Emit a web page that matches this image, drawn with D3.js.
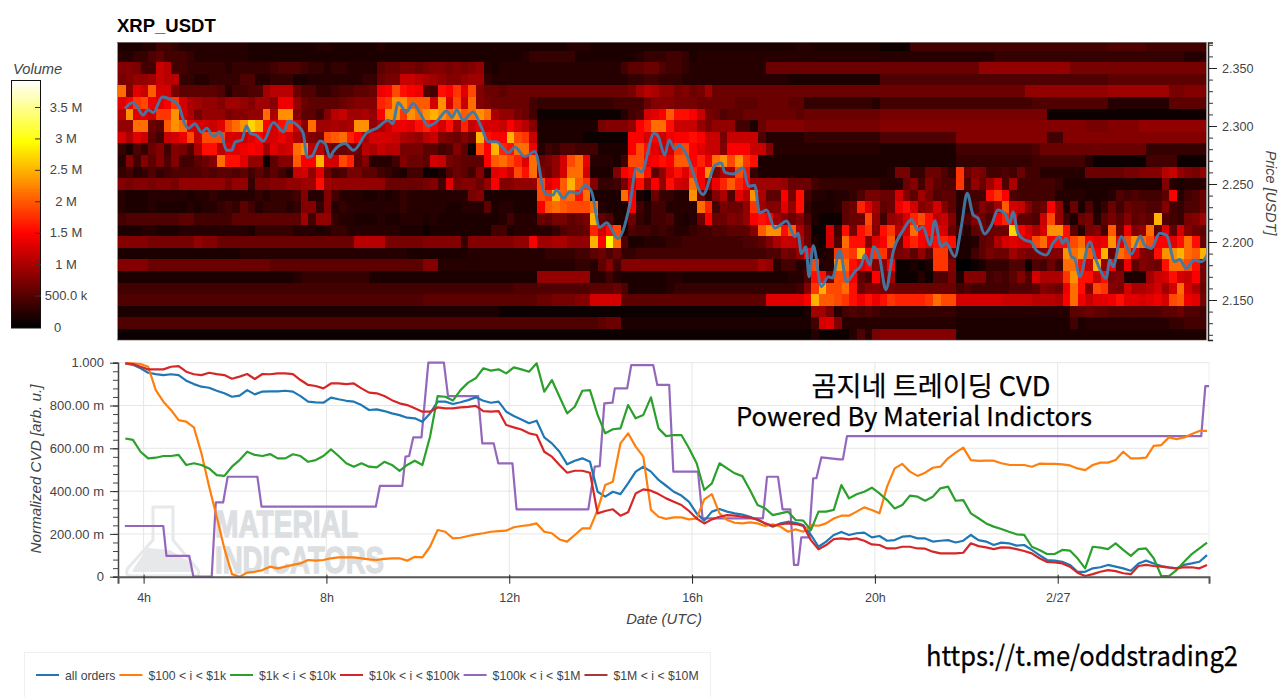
<!DOCTYPE html>
<html><head><meta charset="utf-8">
<script src="https://cdn.jsdelivr.net/npm/d3@7"></script>
<style>
html,body{margin:0;padding:0;background:#fff;overflow:hidden}
svg{display:block}
text{font-family:"Liberation Sans",Arial,sans-serif}
</style></head><body>
<svg id="c" width="1280" height="697"></svg>
<script>
// ---------- DATA ----------
const heatStartHour = 3.44, heatStepHours = 1/6;
const priceLevels = [2.37,2.36,2.35,2.34,2.33,2.32,2.31,2.30,2.29,2.28,2.27,2.26,2.25,2.24,2.23,2.22,2.21,2.20,2.19,2.18,2.17,2.16,2.15,2.14,2.13,2.12];
// volume per 10-minute cell, one base-36 character per cell; levelCodes -> levelVolumes decodes it
const levelCodes = [0,19,25,29];
const levelVolumes = [0,1.45e6,2.1e6,2.9e6];
const heatRows = [
"2223355433 3333333222 2222223322 2222322222 2222222222 2222222223 3322222222 2222222222 2222222223 3222222222 1111555555 5555555555 5555555555 6666655555 555",
"3344675554 3333333222 2222222222 2222222222 2222222222 2223444444 2222222234 4455423333 3333333333 3333333333 3333333333 3333344444 4444444444 4444444444 333",
"aa955fe554 4444344444 5666544344 3333788998 9aa9a9ab32 3333333333 3333335778 8655433333 3333388888 8888888888 8888888888 888bbbbbbb bbbbb99999 9999999999 999",
"9abbcfee44 3344446633 4442233333 3344899ffe dcbaabcc43 3333333333 3333333445 5444333333 3333333322 2222222222 6666666666 6666666666 6666666666 7777777777 777",
"pahfogg977 777635566c eee8664456 6778ijnkji 65kjmhna88 7888888888 88888889ce dbb9a89c88 8888888888 8888888888 8888888888 888888888b bbbbbbbbbb cccccccc99 aaa",
"hjmnihjmgd cbbaccbacc aiib877778 9aaalmqqoo ogqgnfpa98 8888544444 4444455558 aaa9998888 8777888877 4444444443 5555555555 5555555555 6666666666 3333333377 777",
"eqhhfmmqgd 9bbb9aabbp dqqa775aef ccdbjqqmqp qrqpqopqpd bb98511111 111111356g hjokkjf986 7788888887 8888888888 9999999999 9999999999 9911111111 1111111111 111",
"bbpp87oqph ggfhnpqsrj gkmgapccdc dqqbdfiihk ljgkdlfhgg fjgea22222 2229aaabjl ppkfffb9bb b5528aaaaa 9999999999 aaaaaaaaaa aaaaaaaaaa aaaaaaa999 aaaabbbbbb bbb",
"gdhf75fgin fnnnggfhjg gigdba9nop ljdgggfdcb efa98a8rkj jrnmf22222 2111111jjg jfijjkjff9 ffff633333 4444444444 6666666666 aaaaaaaaaa aa55aaaaaa aaaaaaaaaa aaa",
"42648a5a96 dkkehhijic hfgpqee988 98edfee999 7756a71njr lkppi35466 5552222jnk hfgmnjhffa jjjffa3333 3333333333 2222222222 5555555555 6888888888 8888844444 444",
"3a5a7a6a55 78apkkhbb1 7aaojjrggn l7a3335a88 7gf98777jo pnlhp89bgn pi33325nni jkjoojlipq nqmk222222 2222222222 2222222222 4444444444 5555555311 1111155551 111",
"4534645666 6767767575 753fgbh856 9977543255 1126875a3h ifnkpa8bgp pg222ajkok 7bhkhljq9d dnk4222222 2222222222 2399448864 m8a9556585 5333333888 8899aaaefb a9b",
"a9aa9aa9bb bbbb9bb499 aabbcckcbb bbbbb88888 9a5h9aa8bj aabbbnhjor oma4459gkb jbkgfpjcil oljccccb88 8544444444 3338a5a766 m6b8cg6d55 5554222222 2222222a32 333",
"3222333332 3343333343 4445a33a53 3322323433 3333339a22 22222nmrop kp2222pj21 84433q84ad 6heqd77j9k 5332334699 88ga7c9677 3555kmj655 5553333222 36565557j3 568",
"3222322223 2334547534 4434aa4a34 3333333433 3332233372 33222jopon nnp3222j53 553333pl59 88bmcaahbk 4222378lhc 78ikgabga7 346a8cogfa 78jb282624 8587766a54 668",
"5666666677 5555577777 7777c5bb43 3222322333 2322222222 3533387997 89r7622843 5563238j88 a9bjkjca8a 62111788nb 5bcglnkefa 36a86jli77 6fnb528937 97a787r654 9ac",
"2223322233 3333333244 4443332344 3333333222 1222222225 5233333467 78lgkn2655 4543345566 777aoqqkod 811g5k9kma kmegpjkhg8 5378888sjg dgqqk739a5 o8iabp7h7g a87",
"aaaa999999 baa8888888 8888888888 8eeee99999 aaaaa4aaaa aabbjccddb bbrjtp6223 3344555555 55667adffe 821g6pkkah jo8jljhklk 22378dghgg npjkknpjhi qhnqpnjjhk pk8",
"2222222222 2222223333 3333333333 3333333322 2222223333 3333334444 5578684455 5555555555 555556698b j223mnmrjm mb9a7b7mm7 2257988ca9 9aaaqpqojr 8pnga9kqqr por",
"aaaa888888 8888888888 7777777777 7777777777 aa33333333 3333333333 4437a5aaaa aaaaaaaaaa aaaacb3553 4n33qpkhja bj11212mma 0012444661 6585ppkfrb j7i7a98kpp nk9",
"2222222222 2222222222 2223444444 4442222222 2222222222 22222bbbbb bb33532222 2233222222 2222222233 6kk9nnj75j 9c11131669 2aaa5657a6 gdddmqkkfk 9a222cfgkg fj9",
"5555555555 5555555555 5555555555 5555555555 5555555555 5566666666 6677786222 2234444444 4444444445 amrnnpk8aa 9988888888 5655555666 7a98ipkanm a9gddegcgp gd8",
"6666666666 6666666666 6666666666 6666666666 7777777777 7777788999 aagggg7777 7777777777 77777hhhhh jroonmkiki kmllllmpnn ggggggffff eeedjpifhh ikhhghigno ih9",
"2222222222 2222222222 2222222222 2222222222 2222222222 1111111111 1111111111 1111111111 1111111111 2cc9356565 4444444444 3333333333 3333377877 6666666778 665",
"6666666666 6666666666 6666666666 6666666666 6666666666 6666666666 6667882222 2222222222 2222222222 25gha33333 3333333333 2222222222 2222252333 3333333344 555",
"1111111111 1111111111 1111111111 1111111111 1111111111 1111111111 1111111111 1111111111 1111111111 1311113639 aaaaaaaaaa 2222222222 2222222222 2222222222 222"
];
const priceHours = [3.59,3.76,3.85,3.99,4.10,4.21,4.41,4.58,4.76,4.91,4.98,5.12,5.27,5.38,5.53,5.67,5.82,5.93,6.00,6.15,6.25,6.33,6.47,6.62,6.84,7.06,7.17,7.38,7.49,7.58,7.68,7.86,7.97,8.08,8.15,8.41,8.59,8.88,9.10,9.35,9.45,9.57,9.75,9.90,
10.05,10.23,10.41,10.63,10.75,10.85,10.99,11.21,11.39,11.54,11.72,11.98,12.12,12.34,12.56,12.78,12.96,13.03,13.18,13.33,13.51,13.65,13.80,13.98,14.13,14.38,14.49,14.64,14.78,14.89,15.17,15.26,15.40,15.50,15.62,15.72,15.88,16.24,16.50,16.64,16.72,16.90,17.12,17.23,17.37,17.48,17.63,17.81,18.07,18.25,18.32,18.39,18.49,18.56,18.65,18.83,18.98,19.07,
19.23,19.38,19.56,19.70,19.78,19.89,19.97,20.10,20.24,20.40,20.62,20.80,20.94,21.05,21.21,21.31,21.45,21.56,21.75,21.89,22.02,22.15,22.26,22.40,22.55,22.69,22.84,22.95,23.02,23.13,23.28,23.42,23.53,23.75,23.90,24.04,24.11,24.19,24.30,24.37,24.48,24.70,24.84,25.06,25.14,25.21,25.39,25.61,25.81,25.90,26.05,26.23,26.38,26.56,26.67,26.81,26.99,27.14,27.31];
const priceValues = [2.315,2.320,2.317,2.3095,2.314,2.3115,2.325,2.323,2.318,2.301,2.298,2.302,2.2945,2.298,2.291,2.295,2.279,2.279,2.286,2.288,2.300,2.294,2.292,2.287,2.303,2.295,2.304,2.300,2.294,2.273,2.274,2.287,2.285,2.273,2.278,2.285,2.279,2.294,2.298,2.305,2.302,2.320,2.312,2.3195,
2.311,2.300,2.3037,2.313,2.3075,2.314,2.305,2.312,2.299,2.2865,2.2865,2.277,2.282,2.2736,2.278,2.242,2.2405,2.245,2.238,2.2434,2.242,2.249,2.2434,2.2126,2.2167,2.203,2.210,2.233,2.2635,2.2606,2.2937,2.291,2.275,2.288,2.280,2.2836,2.275,2.241,2.266,2.268,2.260,2.2586,2.264,2.248,2.249,2.225,2.2276,2.212,2.218,2.2046,2.2075,2.190,2.196,2.170,2.197,2.1615,2.170,2.169,
2.193,2.1658,2.1744,2.180,2.189,2.180,2.196,2.1874,2.159,2.1917,2.2103,2.2195,2.2103,2.2132,2.1974,2.2184,2.196,2.199,2.1874,2.2132,2.242,2.2233,2.2204,2.207,2.2147,2.2276,2.2247,2.216,2.2261,2.2075,2.2017,2.200,2.193,2.1888,2.199,2.2046,2.199,2.2032,2.1874,2.186,2.170,2.200,2.1845,2.1687,2.1845,2.1787,2.2046,2.1897,2.2052,2.1974,2.1945,2.2075,2.206,2.183,2.185,2.1773,2.1845,2.183,2.1917];

// CVD series: one value every 10 minutes from 3.6 h, in milli-units
const cvdStartHour = 3.6, cvdStepHours = 1/6;
const allOrders = [997,990,974,953,947,942,946,942,916,900,888,883,869,857,841,846,872,852,865,866,866,869,865,844,818,815,813,837,829,822,818,802,779,782,774,763,755,743,740,
724,763,818,818,807,815,825,838,822,813,818,771,751,735,717,729,651,623,584,525,542,553,537,397,374,397,386,436,491,514,491,452,425,397,379,350,296,262,304,316,304,296,290,280,265,249,234,249,257,252,241,195,140,164,195,
209,195,203,206,184,190,168,171,187,190,179,179,164,168,171,160,168,195,171,164,148,159,156,145,148,125,101,78,75,70,55,23,23,39,44,55,47,39,28,62,75,62,50,44,39,55,62,70,101];
const usd100to1k = [997,997,994,981,872,818,779,732,725,698,576,421,280,132,12,0,19,23,31,47,39,47,55,62,78,75,78,86,90,90,90,86,81,78,83,86,86,75,93,
90,140,218,210,179,182,190,198,203,210,213,215,231,237,241,249,210,203,174,164,195,226,226,312,428,444,623,670,608,561,312,280,270,277,277,268,272,361,386,296,265,252,249,254,249,237,245,234,210,221,210,241,238,249,272,
285,285,304,324,312,296,421,506,527,491,471,486,509,514,553,580,603,545,541,542,542,530,523,522,522,514,528,527,527,525,520,506,498,522,533,533,545,584,553,553,556,611,615,651,643,651,667,681,681];
const usd1kto10k = [646,639,584,553,556,564,564,569,522,530,522,506,475,471,514,545,584,569,564,573,553,553,572,564,537,545,564,595,564,530,514,530,514,511,537,522,495,522,542,
522,654,844,841,823,872,907,927,974,963,969,950,978,969,958,997,865,919,841,763,794,869,872,756,670,689,693,802,740,756,838,693,657,662,662,600,530,405,436,530,506,483,470,405,335,319,288,296,304,265,262,218,304,304,312,
428,366,385,397,416,389,358,319,335,379,374,355,374,413,421,355,358,296,273,249,234,223,210,198,195,140,125,106,106,125,122,86,39,140,136,129,156,125,97,129,132,86,3,3,31,70,106,132,159];
const usd10kto100k = [997,994,981,969,969,969,981,984,958,946,942,953,947,942,925,935,947,924,947,946,950,950,947,919,896,891,880,903,903,900,903,880,860,857,844,825,810,802,787,
771,771,791,787,787,791,794,798,774,771,774,709,698,688,670,662,584,561,522,486,495,495,486,296,307,315,285,301,389,408,402,386,366,350,335,307,272,249,268,280,288,285,280,276,268,249,237,246,249,246,237,171,128,148,176,
179,174,179,168,151,148,132,132,140,140,132,131,117,109,109,109,112,156,143,137,129,137,136,129,120,109,86,69,67,62,47,19,3,12,23,31,26,16,12,50,55,50,47,42,39,44,44,39,55];
const usd100kto1MHours = [3.59,4.43,4.50,5.00,5.09,5.49,5.58,5.74,5.84,6.49,6.58,9.08,9.17,9.66,9.73,9.81,9.90,10.08,10.23,10.57,10.66,11.32,11.41,11.66,11.76,12.07,12.16,13.73,13.87,13.98,14.08,14.26,14.31,14.58,14.67,15.15,15.24,15.50,15.59,16.13,16.23,17.55,17.64,17.88,17.98,18.15,18.23,18.32,18.39,18.56,18.65,18.72,18.83,19.23,19.30,19.39,27.14,27.23,27.31];
const usd100kto1M = [237,237,97,97,0,0,347,347,467,467,327,327,424,424,561,564,651,651,1000,1000,844,844,623,623,530,530,315,315,514,517,810,813,880,880,989,989,896,896,491,491,273,273,467,467,315,315,55,55,184,184,460,460,558,548,548,657,657,891,891];
const cvdTicks = [0,200,400,600,800,1000];
const cvdTickLabels = ["0","200.00 m","400.00 m","600.00 m","800.00 m","1.000"];
const timeTicks = [4,8,12,16,20,24];
const timeTickLabels = ["4h","8h","12h","16h","20h","2/27"];
const priceTicks = [2.15,2.20,2.25,2.30,2.35];
const volumeTicks = [0,5e5,1e6,1.5e6,2e6,2.5e6,3e6,3.5e6];
const volumeTickLabels = ["0","500.0 k","1 M","1.5 M","2 M","2.5 M","3 M","3.5 M"];
const legendNames = ["all orders","$100 < i < $1k","$1k < i < $10k","$10k < i < $100k","$100k < i < $1M","$1M < i < $10M"];
const seriesColors = ["#1f77b4","#ff7f0e","#2ca02c","#d62728","#9467bd","#a23a3c"];

// ---------- CHART ----------
const svg = d3.select("#c");
const x = d3.scaleLinear().domain([3.44,27.31]).range([118,1209]);
const yPrice = d3.scaleLinear().domain([2.15-40/1160,2.35+25.5/1160]).range([340,42.5]);
const yCvd = d3.scaleLinear().domain([0,1000]).range([576.7,362.7]);
const volMax = 3.92e6;
const color = d3.scaleLinear().domain([0,.375*volMax,.75*volMax,volMax]).range(["#000000","#ff0000","#ffff00","#ffffff"]);
const decodeLevel = d3.scaleLinear().domain(levelCodes).range(levelVolumes);
const fontCol = "#444";

const defs = svg.append("defs");
defs.append("filter").attr("id","soft").attr("x","-1%").attr("y","-1%").attr("width","102%").attr("height","102%")
  .append("feGaussianBlur").attr("stdDeviation",.6);

svg.append("text").attr("x",117).attr("y",32).attr("font-size",18.5).attr("font-weight","bold").attr("fill","#000").text("XRP_USDT");

// heat map
svg.append("clipPath").attr("id","hc").append("rect").attr("x",118).attr("y",42.5).attr("width",1088).attr("height",297.5);
const heat = svg.append("g").attr("clip-path","url(#hc)").append("g").attr("filter","url(#soft)").attr("shape-rendering","crispEdges");
heatRows.forEach((row,r)=>{
  const chars = row.replace(/ /g,"").split("");
  const p = priceLevels[r];
  heat.selectAll(null).data(chars).enter().append("rect")
    .attr("x",(c,i)=>x(heatStartHour+i*heatStepHours))
    .attr("width",(c,i)=>x(heatStartHour+(i+1)*heatStepHours)-x(heatStartHour+i*heatStepHours)+.5)
    .attr("y",yPrice(p+.005))
    .attr("height",yPrice(p-.005)-yPrice(p+.005)+.5)
    .attr("fill",c=>color(decodeLevel(parseInt(c,36))));
});
const priceLine = d3.line().x(d=>x(d[0])).y(d=>yPrice(d[1])).curve(d3.curveMonotoneX);
svg.append("path").attr("clip-path","url(#hc)").attr("d",priceLine(priceHours.map((h,i)=>[h,priceValues[i]])))
  .attr("fill","none").attr("stroke","#3f7aa8").attr("stroke-width",3).attr("stroke-linejoin","round").attr("opacity",.95);
svg.append("rect").attr("x",117.5).attr("y",42.5).attr("width",1089).attr("height",297.5).attr("fill","none").attr("stroke","#5a4a4a").attr("stroke-width",.6);

// right axis with minor ticks
const minorPrice = d3.range(2.12,2.3705,.01);
const gr = svg.append("g").attr("transform","translate(1208,0)");
gr.call(d3.axisRight(yPrice).tickValues(minorPrice).tickSize(5).tickFormat(""));
gr.selectAll("path").attr("stroke","#222").attr("stroke-width",1.5);
gr.selectAll("line").attr("stroke","#333");
const gr2 = svg.append("g").attr("transform","translate(1208,0)");
gr2.call(d3.axisRight(yPrice).tickValues(priceTicks).tickSize(9).tickPadding(5).tickFormat(d3.format(".3f")));
gr2.select("path").remove();
gr2.selectAll("line").attr("stroke","#222");
gr2.selectAll("text").attr("font-size",12.6).attr("fill",fontCol).attr("font-family",'"Liberation Sans"');
svg.append("text").attr("transform","translate(1265.5,193) rotate(90)").attr("text-anchor","middle").attr("font-size",14.6).attr("font-style","italic").attr("fill",fontCol).text("Price [USDT]");

// colour bar
const cbY = d3.scaleLinear().domain([0,3.5e6]).range([327,107]);
svg.append("text").attr("x",13).attr("y",74).attr("font-size",14.7).attr("font-style","italic").attr("fill",fontCol).text("Volume");
svg.append("g").attr("shape-rendering","crispEdges").selectAll("rect").data(d3.range(0,volMax,volMax/124)).enter().append("rect")
  .attr("x",12).attr("width",28).attr("y",d=>cbY(d)-2.2).attr("height",2.8).attr("fill",d=>color(d));
svg.append("rect").attr("x",11.5).attr("y",80.5).attr("width",29).attr("height",247.5).attr("fill","none").attr("stroke","#111");
const gc = svg.append("g").attr("transform","translate(41,0)");
gc.call(d3.axisLeft(cbY).tickValues(volumeTicks.slice(1)).tickSize(6).tickFormat(""));
gc.select("path").remove();
gc.selectAll("line").attr("stroke","#333");
svg.append("g").selectAll("text").data(volumeTicks).enter().append("text")
  .attr("x",(d,i)=>i===0?57.5:66).attr("y",d=>cbY(d)+4.5).attr("text-anchor","middle").attr("font-size",13).attr("fill",fontCol)
  .text((d,i)=>volumeTickLabels[i]);

// CVD panel
const gg = svg.append("g");
gg.selectAll(".h").data(cvdTicks.slice(1)).enter().append("line").attr("x1",118).attr("x2",1209).attr("y1",d=>yCvd(d)).attr("y2",d=>yCvd(d)).attr("stroke","#e6e6e6");
gg.selectAll(".v").data(timeTicks).enter().append("line").attr("x1",d=>x(d)).attr("x2",d=>x(d)).attr("y1",362.7).attr("y2",576.7).attr("stroke","#e6e6e6");
gg.append("line").attr("x1",1209).attr("x2",1209).attr("y1",362.7).attr("y2",576.7).attr("stroke","#eee");

// watermark
const wm = svg.append("g");
wm.append("path").attr("d","M153 507 L173 507 L173 540 L198 570 Q201 576 194 576 L132 576 Q124 576 128 568 L153 540 Z").attr("fill","none").attr("stroke","#e6e8ea").attr("stroke-width",3);
wm.append("path").attr("d","M134 568 L147 548 L170 550 L190 562 L192 572 L132 572 Z").attr("fill","#e6e8e9");
wm.append("text").attr("x",215).attr("y",537).attr("font-size",37).attr("font-weight","bold").attr("fill","#dcdfe2").attr("stroke","#dcdfe2").attr("stroke-width",1.4).attr("textLength",143).attr("lengthAdjust","spacingAndGlyphs").text("MATERIAL");
wm.append("text").attr("x",215).attr("y",573).attr("font-size",37).attr("font-weight","bold").attr("fill","#dcdfe2").attr("stroke","#dcdfe2").attr("stroke-width",1.4).attr("textLength",169).attr("lengthAdjust","spacingAndGlyphs").text("INDICATORS");

svg.append("clipPath").attr("id","cc").append("rect").attr("x",118).attr("y",361).attr("width",1091).attr("height",217);
const line = d3.line().x(d=>x(d[0])).y(d=>yCvd(d[1]));
const onGrid = vals=>vals.map((v,i)=>[cvdStartHour+i*cvdStepHours,v]);
const seriesPts = [
  onGrid(allOrders), onGrid(usd100to1k), onGrid(usd1kto10k), onGrid(usd10kto100k),
  usd100kto1MHours.map((h,i)=>[h,usd100kto1M[i]])
];
const drawOrder = [4,0,1,2,3];
const plot = svg.append("g").attr("clip-path","url(#cc)");
drawOrder.forEach(i=>plot.append("path").attr("d",line(seriesPts[i])).attr("fill","none").attr("stroke",seriesColors[i]).attr("stroke-width",2.2).attr("stroke-linejoin","round"));

// left axis
const gl = svg.append("g").attr("transform","translate(118,0)");
gl.call(d3.axisLeft(yCvd).tickValues(d3.range(0,1001,40)).tickSize(5).tickFormat(""));
gl.select("path").attr("stroke","#444").attr("stroke-width",1.5);
gl.selectAll("line").attr("stroke","#444");
const gl2 = svg.append("g").attr("transform","translate(118,0)");
gl2.call(d3.axisLeft(yCvd).tickValues(cvdTicks).tickSize(8).tickPadding(6).tickFormat((d,i)=>cvdTickLabels[i]));
gl2.select("path").remove();
gl2.selectAll("line").attr("stroke","#333");
gl2.selectAll("text").attr("font-size",13).attr("fill",fontCol).attr("font-family",'"Liberation Sans"');
svg.append("text").attr("transform","translate(41,469) rotate(-90)").attr("text-anchor","middle").attr("font-size",15.2).attr("font-style","italic").attr("fill",fontCol).text("Normalized CVD [arb. u.]");

// bottom axis
const gb = svg.append("g").attr("transform","translate(0,576.7)");
gb.call(d3.axisBottom(x).tickValues(timeTicks).tickSize(7).tickPadding(9).tickFormat((d,i)=>timeTickLabels[i]));
gb.select("path").attr("stroke","#555").attr("stroke-width",2);
gb.selectAll("line").attr("stroke","#222").attr("y1",-2);
gb.selectAll("text").attr("font-size",12.5).attr("fill",fontCol).attr("font-family",'"Liberation Sans"');
svg.append("text").attr("x",664).attr("y",624).attr("text-anchor","middle").attr("font-size",14.8).attr("font-style","italic").attr("fill",fontCol).text("Date (UTC)");

// overlay captions
const cjk = '"Noto Sans CJK KR","Noto Sans",sans-serif';
svg.append("text").attr("x",931).attr("y",396).attr("text-anchor","middle").attr("font-size",27.2).attr("fill","#000").attr("stroke","#000").attr("stroke-width",.25).style("font-family",cjk).text("곰지네 트레이딩 CVD");
svg.append("text").attr("x",736).attr("y",426).attr("font-size",26).attr("fill","#000").attr("stroke","#000").attr("stroke-width",.25).attr("textLength",356).attr("lengthAdjust","spacingAndGlyphs").style("font-family",cjk).text("Powered By Material Indictors");
svg.append("text").attr("x",926).attr("y",666).attr("font-size",28).attr("fill","#000").attr("stroke","#000").attr("stroke-width",.25).attr("textLength",312).attr("lengthAdjust","spacingAndGlyphs").style("font-family",cjk).text("https://t.me/oddstrading2");

// legend
svg.append("rect").attr("x",24.5).attr("y",652.5).attr("width",686).attr("height",60).attr("fill","#fff").attr("stroke","#f0f0f0");
let lx = 36;
legendNames.forEach((n,i)=>{
  svg.append("line").attr("x1",lx).attr("x2",lx+23).attr("y1",675).attr("y2",675).attr("stroke",seriesColors[i]).attr("stroke-width",2);
  const t = svg.append("text").attr("x",lx+29).attr("y",680).attr("font-size",12.25).attr("fill",fontCol).text(n);
  lx += 29 + t.node().getComputedTextLength() + 4;
});
</script></body></html>
